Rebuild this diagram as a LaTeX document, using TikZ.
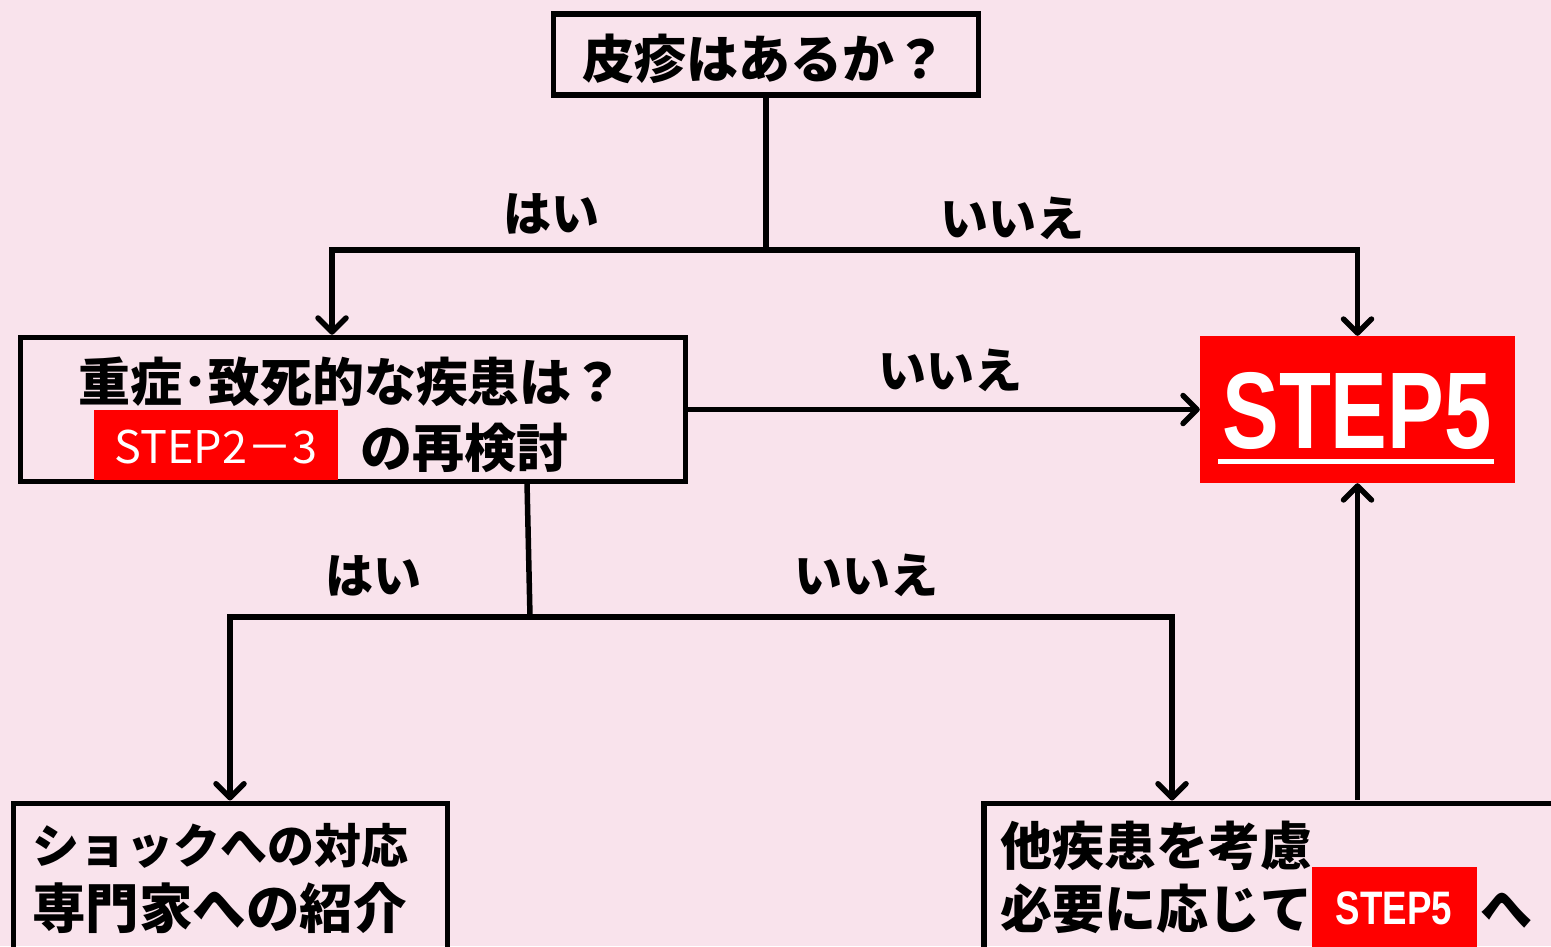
\documentclass[tikz,border=0pt]{standalone}
\usepackage{fontspec}
\setmainfont{Noto Sans CJK JP}
\newfontfamily\stepfont{Liberation Sans}[FakeStretch=0.78]
\usetikzlibrary{arrows.meta,calc}
\definecolor{bgpink}{RGB}{249,227,236}
\definecolor{stepred}{RGB}{255,0,0}
\tikzset{
  box/.style={draw=black, line width=5.5pt, rectangle, inner sep=0pt},
  conn/.style={line width=5.5pt},
  arr/.style={line width=5.5pt, -{Straight Barb[length=14pt,width=28pt,round]}},
  jp/.style={font=\bfseries\fontsize{52}{60}\selectfont, inner sep=0pt, anchor=base},
  jpw/.style={jp, anchor=base west},
  lbl/.style={font=\bfseries\fontsize{48}{58}\selectfont, inner sep=0pt, anchor=base},
  redbox/.style={fill=stepred, inner sep=0pt, text=white},
}
\begin{document}
\begin{tikzpicture}[x=1pt,y=-1pt]
\useasboundingbox (0,0) rectangle (1551,946);
\clip (0,0) rectangle (1551,946);
\fill[bgpink] (0,0) rectangle (1551,946);

% boxes
\node[box, minimum width=425pt, minimum height=81pt] (top) at (766,54.5) {};
\node[jp] (toptext) at (764,78) {皮疹はあるか？};

\node[box, minimum width=665pt, minimum height=144pt] (q2) at (353,409.5) {};
\node[jp] (q2a) at (351,401) {重症･致死的な疾患は？};
\node[redbox, minimum width=244pt, minimum height=70pt] (s23) at (216,445) {};
\node[font=\fontsize{45}{50}\selectfont, text=white, inner sep=0pt] (s23t) at (216,447) {STEP2－3};
\node[jpw] (q2b) at (360,467) {の再検討};

\node[redbox, minimum width=315pt, minimum height=147pt] (step5) at (1357.5,409.5) {};
\node[font=\stepfont\bfseries\fontsize{109}{120}\selectfont, text=white, inner sep=0pt] (step5t) at (1357,411) {STEP5};
\draw[white, line width=5pt] (1218,461) -- (1494,461);

\node[box, anchor=north, minimum width=434pt, minimum height=200pt] (shock) at (230.5,800.5) {};
\node[jpw, font=\bfseries\fontsize{47}{56}\selectfont] (shockA) at (32,863) {ショックへの対応};
\node[jpw, font=\bfseries\fontsize{53.5}{60}\selectfont] (shockB) at (32,928) {専門家への紹介};

\node[box, anchor=north west, minimum width=640pt, minimum height=200pt] (other) at (981,800.5) {};
\node[jpw] (otherA) at (1000,865) {他疾患を考慮};
\node[jpw] (otherB) at (1000,928) {必要に応じて};
\node[redbox, minimum width=165pt, minimum height=82pt] (s5small) at (1394.5,908) {};
\node[font=\stepfont\bfseries\fontsize{47}{56}\selectfont, text=white, inner sep=0pt] (s5smallt) at (1394,908) {STEP5};
\node[jpw] (he) at (1480,928) {へ};

% junctions
\coordinate (j1) at (766,250);
\coordinate (L1) at (332,250);
\coordinate (R1) at (1357.5,250);
\coordinate (b2) at (527,482);
\coordinate (j2) at (530,617);
\coordinate (L2) at (230,617);
\coordinate (R2) at (1172,617);
\coordinate (u) at (1357.5,800);

% connectors
\draw[conn] (top.south) -- (j1);
\draw[arr] (j1) -- (L1) -- (L1 |- q2.north);
\draw[arr] (j1) -- (R1) -- (step5.north);
\draw[arr] (q2.east) -- (step5.west);
\draw[conn] (b2) -- (j2);
\draw[arr] (j2) -- (L2) -- (L2 |- shock.north);
\draw[arr] (j2) -- (R2) -- (R2 |- other.north);
\draw[arr] (u) -- (step5.south);

% labels
\node[lbl] (yes1) at (551,231) {はい};
\node[lbl] (no1) at (1012,236) {いいえ};
\node[lbl] (no2) at (950,388) {いいえ};
\node[lbl] (yes2) at (373,593) {はい};
\node[lbl] (no3) at (866,593) {いいえ};
\end{tikzpicture}
\end{document}
